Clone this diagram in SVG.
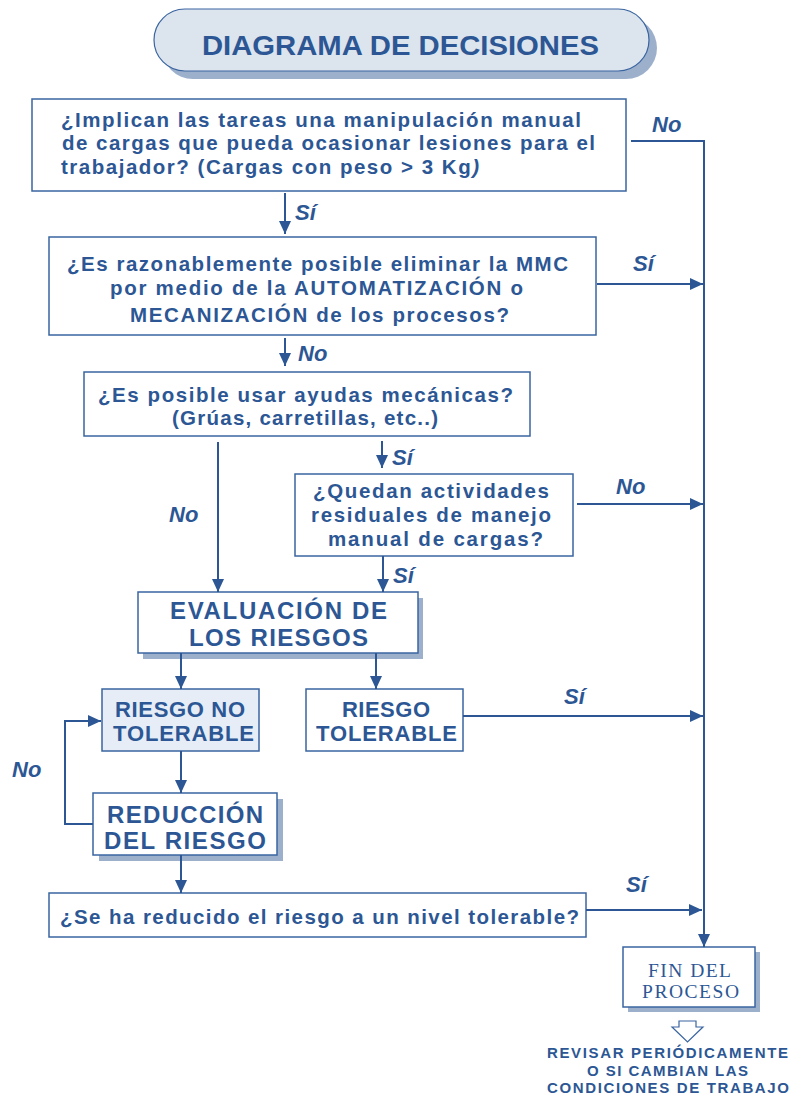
<svg xmlns="http://www.w3.org/2000/svg" width="791" height="1097" viewBox="0 0 791 1097">
<style>
.box{fill:#ffffff;stroke:#3a64a0;stroke-width:1.5}
.shadow{fill:#9cb0cc;stroke:none}
.t{font-family:"Liberation Sans",Arial,sans-serif;font-weight:bold;fill:#2c5794;font-size:20.5px}
.big{font-family:"Liberation Sans",Arial,sans-serif;font-weight:bold;fill:#2c5794;font-size:24px}
.mid{font-family:"Liberation Sans",Arial,sans-serif;font-weight:bold;fill:#2c5794;font-size:22px}
.lbl{font-family:"Liberation Sans",Arial,sans-serif;font-weight:bold;font-style:italic;fill:#2c5794;font-size:22px}
.serif{font-family:"Liberation Serif","Times New Roman",serif;fill:#2c5794;font-size:19.5px}
.note{font-family:"Liberation Sans",Arial,sans-serif;font-weight:bold;fill:#2c5794;font-size:15px}
.conn{fill:none;stroke:#2c5794;stroke-width:2}
</style>
<defs>
<marker id="ah" markerUnits="userSpaceOnUse" markerWidth="14" markerHeight="12" refX="13" refY="6" orient="auto">
<path d="M0,0 L13,6 L0,12 z" fill="#2c5794"/>
</marker>
</defs>
<rect width="791" height="1097" fill="#ffffff"/>

<g id="title">
<rect class="shadow" x="162" y="17" width="495" height="62" rx="31"/>
<rect x="154" y="9" width="495" height="62" rx="31" fill="#dce4ee" stroke="#3a64a0" stroke-width="1.2"/>
<text x="202" y="55" font-family="Liberation Sans, Arial, sans-serif" font-weight="bold" font-size="28" fill="#2c5794" textLength="397" lengthAdjust="spacingAndGlyphs">DIAGRAMA DE DECISIONES</text>
</g>

<g id="q1">
<rect class="box" x="32" y="99" width="594" height="92"/>
<text class="t" x="61" y="127" textLength="520" lengthAdjust="spacing">¿Implican las tareas una manipulación manual</text>
<text class="t" x="62" y="150" textLength="533" lengthAdjust="spacing">de cargas que pueda ocasionar lesiones para el</text>
<text class="t" x="61" y="174" textLength="418" lengthAdjust="spacing">trabajador? (Cargas con peso &gt; 3 Kg<tspan font-style="italic">)</tspan></text>
</g>

<g id="q2">
<rect class="box" x="49" y="237" width="547" height="98"/>
<text class="t" x="67" y="271" textLength="501" lengthAdjust="spacing">¿Es razonablemente posible eliminar la MMC</text>
<text class="t" x="110" y="295" textLength="413" lengthAdjust="spacing">por medio de la AUTOMATIZACIÓN o</text>
<text class="t" x="130" y="322" textLength="379" lengthAdjust="spacing">MECANIZACIÓN de los procesos?</text>
</g>

<g id="q3">
<rect class="box" x="84" y="372" width="446" height="64"/>
<text class="t" x="98" y="402" textLength="415" lengthAdjust="spacing">¿Es posible usar ayudas mecánicas?</text>
<text class="t" x="172" y="425" textLength="266" lengthAdjust="spacing">(Grúas, carretillas, etc..)</text>
</g>

<g id="q4">
<rect class="box" x="295" y="474" width="278" height="82"/>
<text class="t" x="313" y="498" textLength="236" lengthAdjust="spacing">¿Quedan actividades</text>
<text class="t" x="311" y="522" textLength="240" lengthAdjust="spacing">residuales de manejo</text>
<text class="t" x="328" y="546" textLength="215" lengthAdjust="spacing">manual de cargas?</text>
</g>

<g id="evaluacion">
<rect class="shadow" x="143" y="598" width="280" height="61"/>
<rect class="box" x="138" y="592" width="280" height="61"/>
<text class="big" x="170" y="619" textLength="217" lengthAdjust="spacing">EVALUACIÓN DE</text>
<text class="big" x="189" y="646" textLength="179" lengthAdjust="spacing">LOS RIESGOS</text>
</g>

<g id="riesgo-no-tolerable">
<rect x="102" y="689" width="157" height="62" fill="#e6edf6" stroke="#3a64a0" stroke-width="1.5"/>
<text class="mid" x="115" y="717" textLength="130" lengthAdjust="spacing">RIESGO NO</text>
<text class="mid" x="113" y="741" textLength="141" lengthAdjust="spacing">TOLERABLE</text>
</g>

<g id="riesgo-tolerable">
<rect class="box" x="306" y="689" width="157" height="62"/>
<text class="mid" x="342" y="717" textLength="88" lengthAdjust="spacing">RIESGO</text>
<text class="mid" x="316" y="741" textLength="141" lengthAdjust="spacing">TOLERABLE</text>
</g>

<g id="reduccion">
<rect class="shadow" x="99" y="799" width="184" height="62"/>
<rect class="box" x="93" y="793" width="184" height="62"/>
<text class="big" x="107" y="823" textLength="156" lengthAdjust="spacing">REDUCCIÓN</text>
<text class="big" x="104" y="849" textLength="162" lengthAdjust="spacing">DEL RIESGO</text>
</g>

<g id="q5">
<rect class="box" x="49" y="893" width="537" height="44"/>
<text class="t" x="60" y="924" textLength="519" lengthAdjust="spacing">¿Se ha reducido el riesgo a un nivel tolerable?</text>
</g>

<g id="fin">
<rect class="shadow" x="628" y="952" width="132" height="60"/>
<rect class="box" x="623" y="947" width="132" height="60"/>
<text class="serif" x="648" y="977" textLength="83" lengthAdjust="spacing">FIN DEL</text>
<text class="serif" x="642" y="998" textLength="97" lengthAdjust="spacing">PROCESO</text>
</g>

<g id="revisar">
<polygon points="679,1021 696,1021 696,1027 703,1027 687.5,1042 672,1027 679,1027" fill="#ffffff" stroke="#3a64a0" stroke-width="1.2"/>
<text class="note" x="547" y="1058" textLength="241" lengthAdjust="spacing">REVISAR PERIÓDICAMENTE</text>
<text class="note" x="587" y="1075.5" textLength="161" lengthAdjust="spacing">O SI CAMBIAN LAS</text>
<text class="note" x="547" y="1093" textLength="242" lengthAdjust="spacing">CONDICIONES DE TRABAJO</text>
</g>

<g id="connectors">
<path class="conn" d="M631,141 H704 V947" marker-end="url(#ah)"/>
<path class="conn" d="M285,193 V234" marker-end="url(#ah)"/>
<path class="conn" d="M597,284 H703" marker-end="url(#ah)"/>
<path class="conn" d="M285,338 V366" marker-end="url(#ah)"/>
<path class="conn" d="M218,442 V592" marker-end="url(#ah)"/>
<path class="conn" d="M382,441 V468" marker-end="url(#ah)"/>
<path class="conn" d="M577,504 H703" marker-end="url(#ah)"/>
<path class="conn" d="M383,556 V592" marker-end="url(#ah)"/>
<path class="conn" d="M181,653 V689" marker-end="url(#ah)"/>
<path class="conn" d="M376,653 V689" marker-end="url(#ah)"/>
<path class="conn" d="M463,716 H703" marker-end="url(#ah)"/>
<path class="conn" d="M181,751 V793" marker-end="url(#ah)"/>
<path class="conn" d="M93,824 H65 V721 H101" marker-end="url(#ah)"/>
<path class="conn" d="M181,855 V893" marker-end="url(#ah)"/>
<path class="conn" d="M586,910 H702" marker-end="url(#ah)"/>
<text class="lbl" x="652" y="132">No</text>
<text class="lbl" x="295" y="220">Sí</text>
<text class="lbl" x="633" y="271">Sí</text>
<text class="lbl" x="298" y="361">No</text>
<text class="lbl" x="392" y="465">Sí</text>
<text class="lbl" x="169" y="522">No</text>
<text class="lbl" x="616" y="494">No</text>
<text class="lbl" x="393" y="583">Sí</text>
<text class="lbl" x="564" y="704">Sí</text>
<text class="lbl" x="12" y="777">No</text>
<text class="lbl" x="626" y="892">Sí</text>
</g>
</svg>
